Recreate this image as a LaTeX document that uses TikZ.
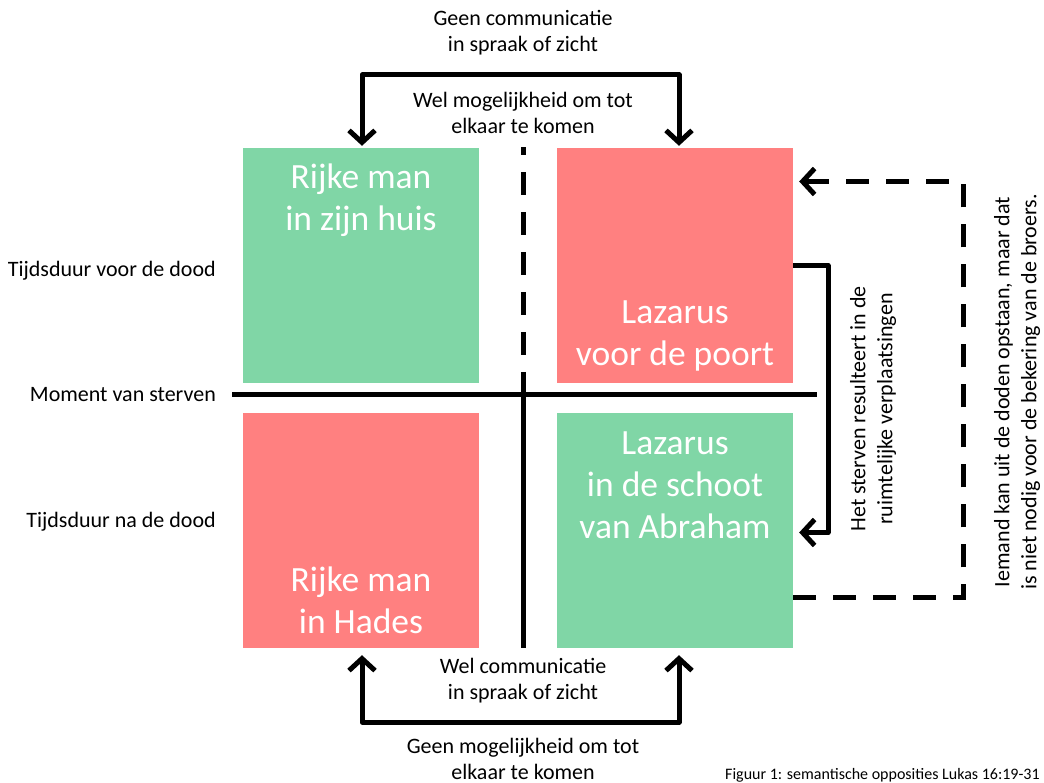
\documentclass[tikz,border=0pt]{standalone}
\usepackage{fontspec}
\setmainfont{Carlito}
\usetikzlibrary{arrows.meta,calc}
\definecolor{boxgreen}{RGB}{128,214,166}
\definecolor{boxred}{RGB}{255,128,128}
\tikzset{mybarb/.tip={Straight Barb[length=12pt,width=26pt,line join=miter]}}
\begin{document}
\begin{tikzpicture}[x=1pt,y=-1pt,
  quad/.style={draw=none,minimum width=236pt,minimum height=235pt,inner sep=0pt},
  qtext/.style={text=white,align=center,font=\fontsize{35.5}{42}\selectfont},
  lbl/.style={align=center,font=\fontsize{22}{26}\selectfont,inner sep=0pt},
  rlbl/.style={align=center,font=\fontsize{22}{27}\selectfont,inner sep=0pt,rotate=90},
  thick line/.style={line width=5pt},
  dashline/.style={line width=5pt,dash pattern=on 23pt off 17pt}]
\useasboundingbox (0,0) rectangle (1044,783);
% boxes
\node[quad,fill=boxgreen] (tl) at (361,265.5) {};
\node[quad,fill=boxred] (tr) at (675,265.5) {};
\node[quad,fill=boxred] (bl) at (361,530.5) {};
\node[quad,fill=boxgreen] (br) at (675,530.5) {};
% box texts
\node[qtext] (tlt) at (361,200) {Rijke man\\in zijn huis};
\node[qtext] (trt) at (675,336) {Lazarus\\voor de poort};
\node[qtext] (brt) at (675,485) {Lazarus\\in de schoot\\van Abraham};
\node[qtext] (blt) at (361,600) {Rijke man\\in Hades};
% axes
\coordinate (hl) at (232,395);
\coordinate (hr) at (817,395);
\coordinate (vs) at (523,372);
\coordinate (vb) at (523,648);
\coordinate (vd1) at (523,355);
\coordinate (vd2) at (523,147);
\draw[thick line] (hl) -- (hr);
\draw[thick line] (vs) -- (vb);
\draw[dashline] (vd1) -- (vd2);
% top and bottom arrows
\coordinate (ty) at (0,75);
\coordinate (by) at (0,722);
\draw[thick line,mybarb-mybarb,shorten <=2pt,shorten >=2pt,line join=round]
  ([xshift=1pt]tl.north) -- ([xshift=1pt]tl.north |- ty) -| ([xshift=4pt]tr.north);
\draw[thick line,mybarb-mybarb,shorten <=7pt,shorten >=7pt,line join=round]
  ([xshift=1pt]bl.south) -- ([xshift=1pt]bl.south |- by) -| ([xshift=4pt]br.south);
% right solid arrow
\coordinate (rx) at (828,0);
\draw[thick line,-mybarb,shorten >=6pt,line join=round]
  (tr.east) -- (tr.east -| rx) |- ([yshift=-2pt]br.east);
% dashed arrow
\coordinate (dx) at (963,0);
\draw[dashline,-mybarb,shorten >=6pt]
  ([yshift=-67pt]br.east) -- ([yshift=-67pt]br.east -| dx) |- ([yshift=84pt]tr.east);
% labels
\node[lbl] (l1) at (523,33) {Geen communicatie\\in spraak of zicht};
\node[lbl] (l2) at (523,113) {Wel mogelijkheid om tot\\elkaar te komen};
\node[lbl] (l3) at (523,681) {Wel communicatie\\in spraak of zicht};
\node[lbl] (l4) at (523,759) {Geen mogelijkheid om tot\\elkaar te komen};
\node[lbl,anchor=east] (t1) at (216,271) {Tijdsduur voor de dood};
\node[lbl,anchor=east] (t2) at (216,395) {Moment van sterven};
\node[lbl,anchor=east] (t3) at (216,522) {Tijdsduur na de dood};
\node[rlbl] (r1) at (873,409) {Het sterven resulteert in de\\ruimtelijke verplaatsingen};
\node[rlbl] (r2) at (1017,392) {Iemand kan uit de doden opstaan, maar dat\\is niet nodig voor de bekering van de broers.};
\node[font=\fontsize{16}{18}\selectfont,anchor=base west,inner sep=0pt] (cap) at (725,779) {Figuur 1: semantische opposities Lukas 16:19-31};
\end{tikzpicture}
\end{document}
